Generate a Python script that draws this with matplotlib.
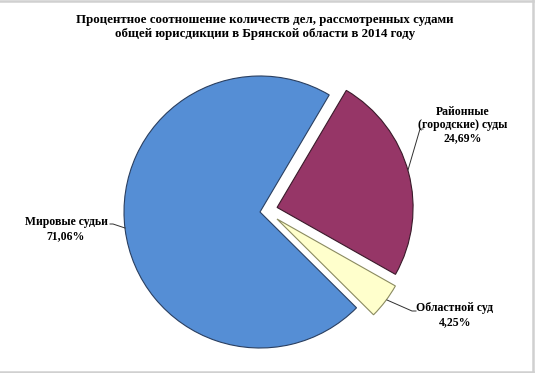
import matplotlib
matplotlib.use("Agg")
import matplotlib.pyplot as plt
from matplotlib.lines import Line2D

title = "Процентное соотношение количеств дел, рассмотренных судами\nобщей юрисдикции в Брянской области в 2014 году"
categories = ["Районные\n(городские) суды", "Областной суд", "Мировые судьи"]
values = [24.69, 4.25, 71.06]
value_labels = ["24,69%", "4,25%", "71,06%"]
colors = ["#963667", "#FFFFCC", "#558ED5"]
edges = ["#3a1a2a", "#8a8a60", "#2a3f60"]
explode = [0.13, 0.13, 0.0]

W, H = 537, 373
fig = plt.figure(figsize=(W / 100, H / 100), dpi=100)
ax = fig.add_axes([0, 0, 1, 1])
cx, cy, R = 260, 212, 136

wedges, _ = ax.pie(values, colors=colors, explode=explode, startangle=59.4,
                   counterclock=False, radius=1.0, center=(0, 0), frame=True,
                   wedgeprops=dict(linewidth=0.8))
for w, ec in zip(wedges, edges):
    w.set_edgecolor(ec)
# fine-tune the offset of the small exploded slice
wedges[1].set_center((17 / R, -7 / R))
ax.set_xlim(-cx / R, (W - cx) / R)
ax.set_ylim(-(H - cy) / R, cy / R)
ax.set_aspect("auto")
ax.axis("off")

font = dict(family=["Liberation Serif", "DejaVu Serif"], fontweight="bold", fontsize=8.5)

def px(x, y):
    return ((x - cx) / R, (cy - y) / R)

fig.text(265 / W, 1 - 27 / H, title, ha="center", va="center",
         linespacing=1.25, **dict(font, fontsize=9.3))

# labels
ax.text(*px(463, 125), categories[0] + "\n" + value_labels[0], ha="center", va="center",
        linespacing=1.15, **font)
ax.text(*px(455, 315), categories[1] + "\n" + value_labels[1], ha="center", va="center",
        linespacing=1.15, **font)
ax.text(*px(66, 229), categories[2] + "\n" + value_labels[2], ha="center", va="center",
        linespacing=1.15, **font)

# leader lines
def leader(pts):
    xs, ys = zip(*[px(x, y) for x, y in pts])
    ax.plot(xs, ys, color="#303030", lw=0.7)

leader([(423, 129), (420, 129), (408, 170)])
leader([(387, 300), (412, 311), (416, 311)])
leader([(110, 224), (113, 224), (125, 228)])

# chart border (top, right, bottom)
bx = 533 / W
for xs, ys in [((0, bx), (1 - 0.8 / H, 1 - 0.8 / H)),
               ((bx, bx), (1, 1.5 / H)),
               ((0, bx), (1.5 / H, 1.5 / H))]:
    fig.add_artist(Line2D(xs, ys, transform=fig.transFigure, color="#d0d0d0", lw=1.8))

fig.savefig("out.png", dpi=100, facecolor="white")
